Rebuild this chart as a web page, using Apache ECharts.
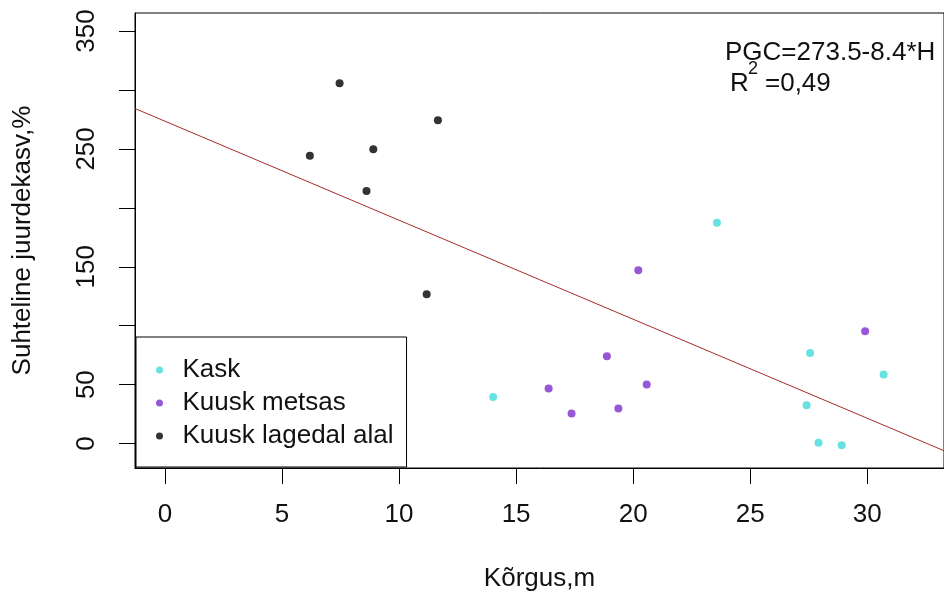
<!DOCTYPE html>
<html>
<head>
<meta charset="utf-8">
<script src="https://cdn.jsdelivr.net/npm/echarts@6/dist/echarts.min.js"></script>
<style>
html, body { margin: 0; padding: 0; background: #fff; }
#chart { width: 944px; height: 599px; }
</style>
</head>
<body>
<div id="chart"></div>
<script>
// Height (m) and relative growth (%) per group
const kaskH   = [14.02, 23.58, 27.56, 30.70, 27.41, 27.92, 28.91];
const kaskPGC = [39.6, 187.3, 76.9, 58.6, 32.5, 0.8, -1.4];

const metsasH   = [20.22, 18.88, 20.58, 16.39, 17.37, 19.37, 29.91];
const metsasPGC = [147.1, 74.1, 50.1, 46.7, 25.5, 29.7, 95.3];

const lagedalH   = [7.46, 11.66, 6.19, 8.90, 8.61, 11.18];
const lagedalPGC = [305.6, 274.4, 244.1, 249.8, 214.2, 126.7];

const groupNames = ['Kask', 'Kuusk metsas', 'Kuusk lagedal alal'];

// Axis ticks and the labels that are printed
const xTicks = [0, 5, 10, 15, 20, 25, 30];
const yTicks = [0, 50, 100, 150, 200, 250, 300, 350];
const yTickLabels = [0, 50, 150, 250, 350];

// Linear fit PGC = a + b*H
const fitIntercept = 273.5;
const fitSlope = -8.4;

const xRange = [-1.28, 33.28];
const yRange = [-20.7, 365.3];

const FONT = '"Liberation Sans", Arial, sans-serif';
const pairs = (xs, ys) => xs.map((x, i) => [x, ys[i]]);
const fit = h => fitIntercept + fitSlope * h;

const chart = echarts.init(document.getElementById('chart'), null, { renderer: 'canvas' });

const labelStyle = { fontFamily: FONT, fontSize: 26, color: '#111' };

chart.setOption({
  animation: false,
  backgroundColor: '#fff',
  grid: {
    left: 135, top: 13, right: -8, bottom: 131,
    show: true, borderColor: '#000', borderWidth: 1, backgroundColor: 'transparent'
  },
  xAxis: {
    type: 'value',
    min: xRange[0], max: xRange[1],
    axisLine: { show: true, onZero: false, lineStyle: { color: '#000', width: 1 } },
    splitLine: { show: false },
    axisTick: { show: true, length: 16, lineStyle: { color: '#000', width: 1 }, customValues: xTicks },
    axisLabel: Object.assign({ customValues: xTicks, margin: 34 }, labelStyle),
    name: 'Kõrgus,m',
    nameLocation: 'middle',
    nameGap: 98,
    nameTextStyle: labelStyle
  },
  yAxis: {
    type: 'value',
    min: yRange[0], max: yRange[1],
    axisLine: { show: true, onZero: false, lineStyle: { color: '#000', width: 1 } },
    splitLine: { show: false },
    axisTick: { show: true, length: 16, lineStyle: { color: '#000', width: 1 }, customValues: yTicks },
    axisLabel: Object.assign({ customValues: yTickLabels, margin: 35, rotate: 90 }, labelStyle),
    name: 'Suhteline juurdekasv,%',
    nameLocation: 'middle',
    nameGap: 99,
    nameRotate: 90,
    nameTextStyle: labelStyle
  },
  legend: {
    data: groupNames,
    orient: 'vertical',
    left: 136, top: 337,
    padding: [20, 13, 18, 20],
    itemGap: 7,
    itemWidth: 36,
    itemHeight: 7,
    icon: 'circle',
    backgroundColor: '#fff',
    borderColor: '#000',
    borderWidth: 1,
    borderRadius: 0,
    textStyle: { fontFamily: FONT, fontSize: 26, lineHeight: 26, color: '#111', padding: [0, 0, 0, 0] },
    selectedMode: false
  },
  series: [
    {
      type: 'line',
      data: [[xRange[0], fit(xRange[0])], [xRange[1], fit(xRange[1])]],
      showSymbol: false,
      silent: true,
      clip: true,
      lineStyle: { color: '#A52A2A', width: 1 },
      z: 1
    },
    {
      name: groupNames[0], type: 'scatter', symbol: 'circle', symbolSize: 8,
      data: pairs(kaskH, kaskPGC), itemStyle: { color: '#40DCD8' }, z: 3
    },
    {
      name: groupNames[1], type: 'scatter', symbol: 'circle', symbolSize: 8,
      data: pairs(metsasH, metsasPGC), itemStyle: { color: '#7D2ECD' }, z: 3
    },
    {
      name: groupNames[2], type: 'scatter', symbol: 'circle', symbolSize: 8,
      data: pairs(lagedalH, lagedalPGC), itemStyle: { color: '#000' }, z: 3
    }
  ],
  graphic: [
    {
      type: 'text', x: 725, y: 53, z: 10,
      style: { text: 'PGC=273.5-8.4*H', font: '26px ' + FONT, fill: '#111', verticalAlign: 'middle' }
    },
    {
      type: 'text', x: 730, y: 84, z: 10,
      style: { text: 'R', font: '26px ' + FONT, fill: '#111', verticalAlign: 'middle' }
    },
    {
      type: 'text', x: 748, y: 69, z: 10,
      style: { text: '2', font: '18px ' + FONT, fill: '#111', verticalAlign: 'middle' }
    },
    {
      type: 'text', x: 765, y: 84, z: 10,
      style: { text: '=0,49', font: '26px ' + FONT, fill: '#111', verticalAlign: 'middle' }
    }
  ]
});
</script>
</body>
</html>
